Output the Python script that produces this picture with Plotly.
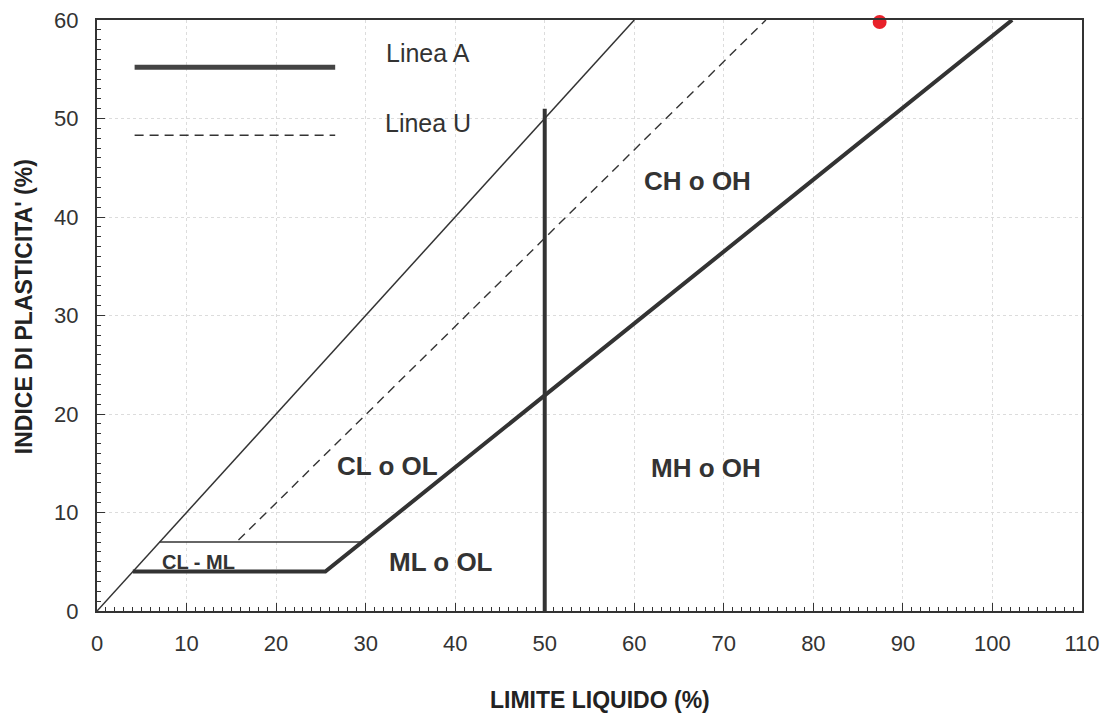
import plotly.graph_objects as go

# ---- data ----
linea_a_x = [4, 25.5, 102.2]
linea_a_y = [4, 4, 60]
linea_u_x = [15.8, 74.7]
linea_u_y = [7.2, 60]
diag_x = [0, 60]
diag_y = [0, 60]
cl_ml_top_x = [7, 29.6]
cl_ml_top_y = [7, 7]
ll50_x = [50, 50]
ll50_y = [0, 51]
sample_ll = [87.4]
sample_pi = [59.8]

zone_labels = ["CL o OL", "ML o OL", "CH o OH", "MH o OH", "CL - ML"]
zone_x = [32.4, 38.4, 67.1, 68.0, 11.3]
zone_y = [14.7, 5.0, 43.7, 14.5, 5.0]

legend_names = ["Linea A", "Linea U"]
legend_text_x = [32.1, 31.9]
legend_text_y = [56.6, 49.5]
legend_line_x = [4.2, 26.6]
legend_line_y = [55.2, 48.3]

x_ticks = [0, 10, 20, 30, 40, 50, 60, 70, 80, 90, 100, 110]
y_ticks = [0, 10, 20, 30, 40, 50, 60]

INK = "#333333"
FONT = "Liberation Sans, Arial, sans-serif"

fig = go.Figure()

fig.add_trace(go.Scatter(x=diag_x, y=diag_y, mode="lines",
                         line=dict(color=INK, width=1.5), hoverinfo="skip"))
fig.add_trace(go.Scatter(x=cl_ml_top_x, y=cl_ml_top_y, mode="lines",
                         line=dict(color=INK, width=1.5), hoverinfo="skip"))
fig.add_trace(go.Scatter(x=linea_u_x, y=linea_u_y, mode="lines",
                         line=dict(color=INK, width=1.4, dash="9px,6px"), hoverinfo="skip"))
fig.add_trace(go.Scatter(x=linea_a_x, y=linea_a_y, mode="lines",
                         line=dict(color=INK, width=4), hoverinfo="skip"))
fig.add_trace(go.Scatter(x=ll50_x, y=ll50_y, mode="lines",
                         line=dict(color=INK, width=4), hoverinfo="skip"))

# legend keys drawn inside the plot, as in the reference
fig.add_trace(go.Scatter(x=legend_line_x, y=[legend_line_y[0]] * 2, mode="lines",
                         line=dict(color="#444444", width=5), hoverinfo="skip"))
fig.add_trace(go.Scatter(x=legend_line_x, y=[legend_line_y[1]] * 2, mode="lines",
                         line=dict(color=INK, width=1.4, dash="9px,6px"), hoverinfo="skip"))

fig.add_trace(go.Scatter(x=sample_ll, y=sample_pi, mode="markers",
                         marker=dict(color="#e8212a", size=14), cliponaxis=False,
                         hoverinfo="skip"))

for name, xx, yy in zip(legend_names, legend_text_x, legend_text_y):
    fig.add_annotation(x=xx, y=yy, text=name, showarrow=False, xanchor="left",
                       font=dict(family=FONT, size=25, color=INK))

for i, (t, xx, yy) in enumerate(zip(zone_labels, zone_x, zone_y)):
    fig.add_annotation(x=xx, y=yy, text="<b>%s</b>" % t, showarrow=False,
                       font=dict(family=FONT, size=20 if i == 4 else 26, color=INK))

# axis titles
fig.add_annotation(xref="paper", yref="paper", x=0.511, y=0, yshift=-89,
                   xanchor="center", yanchor="middle",
                   text="<b>LIMITE LIQUIDO (%)</b>", showarrow=False,
                   font=dict(family=FONT, size=23, color="#222222"))
fig.add_annotation(xref="paper", yref="paper", x=0, xshift=-73, y=0.514,
                   xanchor="center", yanchor="middle",
                   text="<b>INDICE DI PLASTICITA' (%)</b>", showarrow=False, textangle=-90,
                   font=dict(family=FONT, size=23, color="#222222"))

axis_common = dict(
    showline=True, linecolor=INK, linewidth=2, mirror=True,
    ticks="inside", ticklen=8, tickcolor=INK, tickwidth=1,
    showgrid=True, gridcolor="#dcdcdc", griddash="dot", gridwidth=1,
    zeroline=False, automargin=False, ticklabeloverflow="allow",
    tickfont=dict(family=FONT, size=22, color="#333333"),
)

fig.update_xaxes(range=[0, 110], tickvals=x_ticks, ticklabelstandoff=12, **axis_common,
                 minor=dict(dtick=1, ticks="inside", ticklen=4, tickcolor=INK, showgrid=False))
fig.update_yaxes(range=[0, 60], tickvals=y_ticks, ticklabelstandoff=12, **axis_common,
                 minor=dict(dtick=1, ticks="inside", ticklen=4, tickcolor=INK, showgrid=False))

fig.update_layout(
    width=1100, height=713,
    margin=dict(l=97, r=18, t=20, b=102),
    paper_bgcolor="white", plot_bgcolor="white",
    showlegend=False,
)

# remove the default 8px page margin so the 1100x713 figure fills the window exactly
fig.write_html("out.html", config={"displayModeBar": False},
               post_script="document.body.style.margin='0px';")
